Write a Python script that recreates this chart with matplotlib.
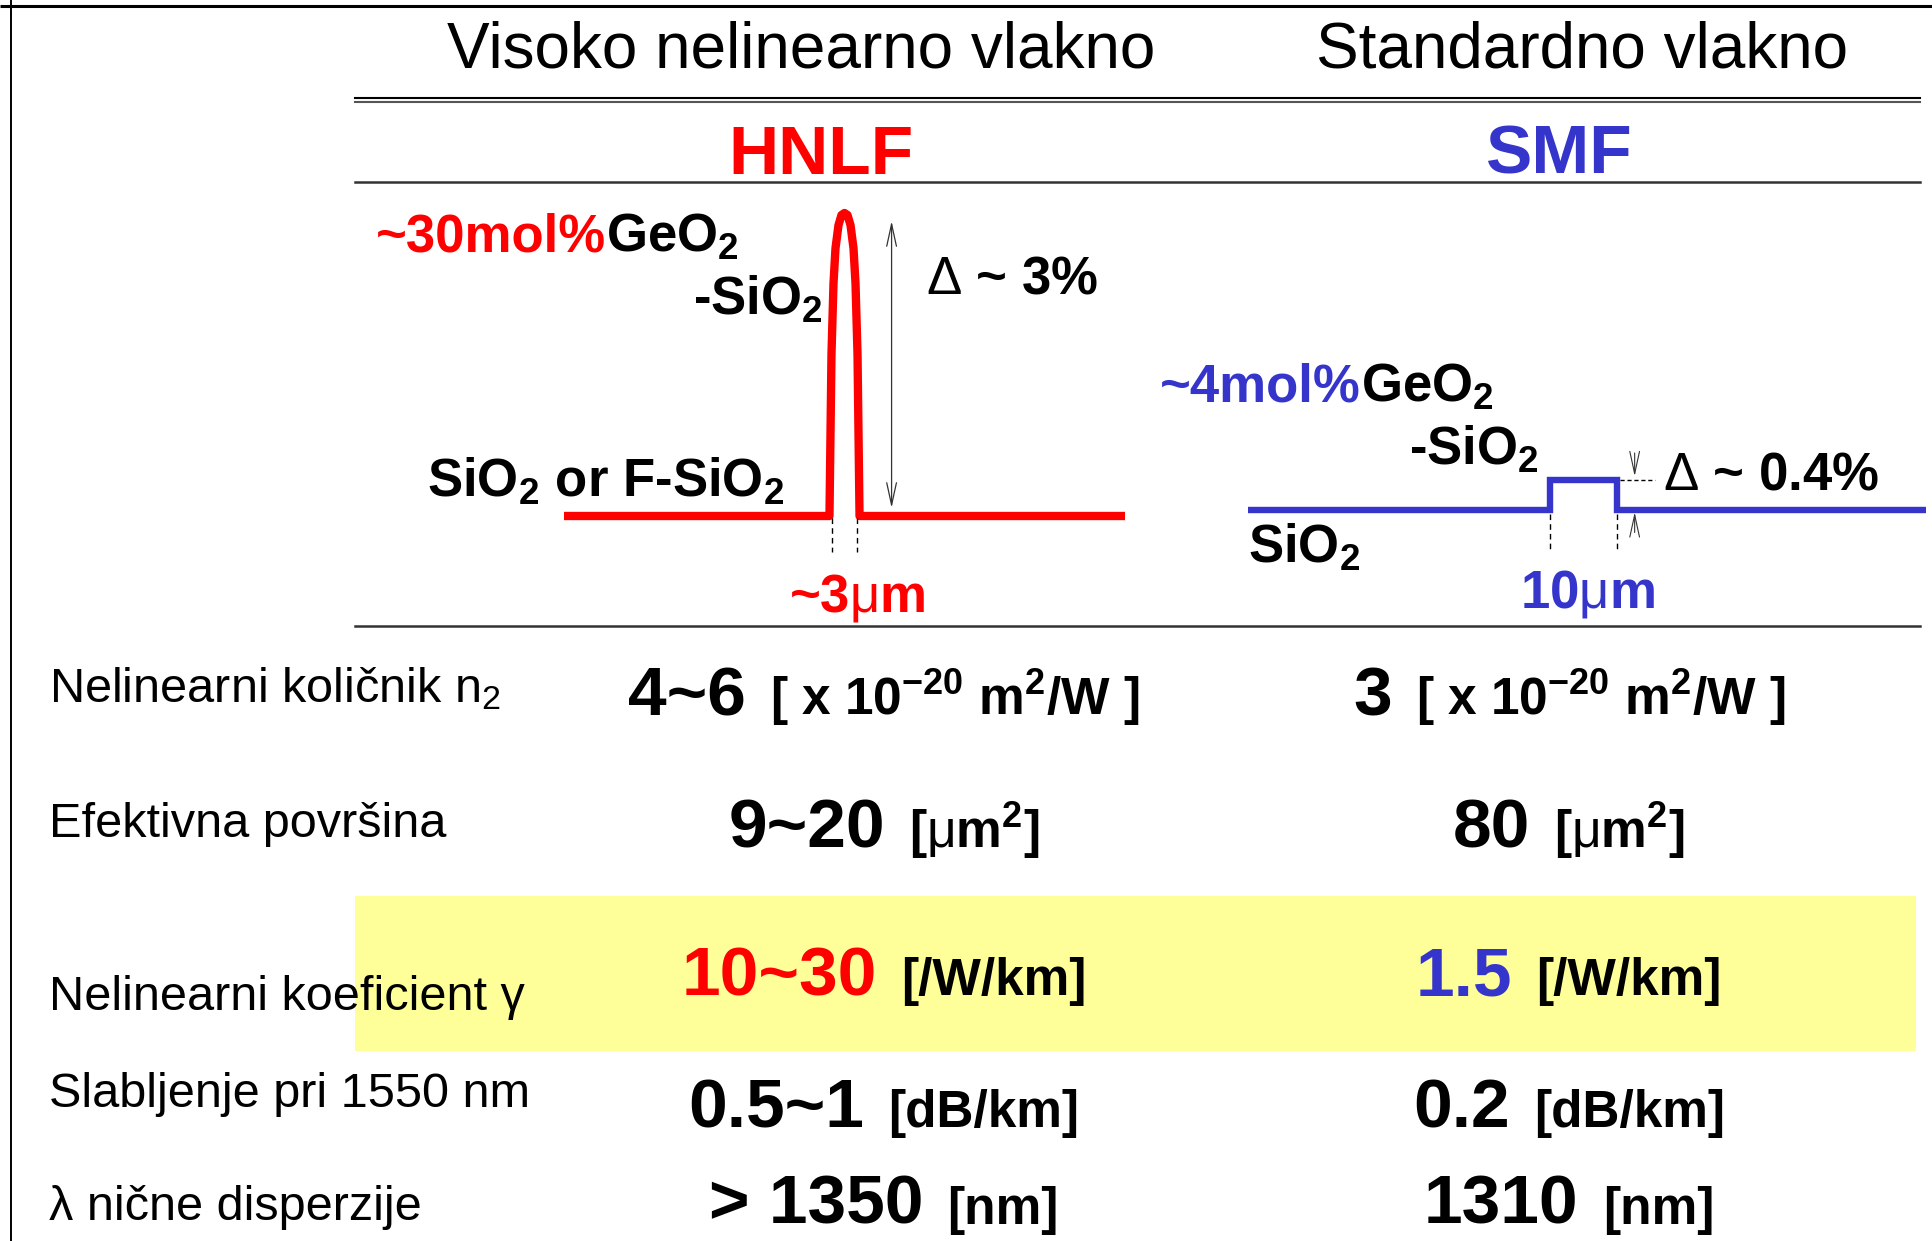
import numpy as np
import matplotlib.pyplot as plt

plt.rcParams['font.family'] = ['Liberation Sans', 'DejaVu Sans']
plt.rcParams['mathtext.fontset'] = 'custom'
plt.rcParams['mathtext.rm'] = 'Liberation Sans'
plt.rcParams['mathtext.bf'] = 'Liberation Sans:bold'
plt.rcParams['mathtext.default'] = 'regular'

# ============================================================
# Data
# ============================================================

fiber_names = ['Visoko nelinearno vlakno', 'Standardno vlakno']
fiber_codes = ['HNLF', 'SMF']

row_labels = ['Nelinearni količnik n$_2$',
              'Efektivna površina',
              'Nelinearni koeficient γ',
              'Slabljenje pri 1550 nm',
              'λ nične disperzije']
hnlf_values = ['4~6', '9~20', '10~30', '0.5~1', '> 1350']
smf_values = ['3', '80', '1.5', '0.2', '1310']
units = ['[ x 10$^{-20}$ m$^2$/W ]', r'[$\mathrm{\mu}$m$^2$]',
         '[/W/km]', '[dB/km]', '[nm]']
highlight_row = 2

# refractive index profiles (schematic): radius [um], index step [%]
hnlf_r = [-28, -1.5, -1.3, -1.1, -0.9, -0.6, -0.3, 0.0, 0.3, 0.6, 0.9, 1.1, 1.3, 1.5, 28]
hnlf_delta = [0, 0, 1.6, 2.3, 2.65, 2.88, 2.98, 3.0, 2.98, 2.88, 2.65, 2.3, 1.6, 0, 0]
hnlf_core = 3      # um
hnlf_step = 3      # %
smf_r = [-50, -5, -5, 5, 5, 51]
smf_delta = [0, 0, 0.4, 0.4, 0, 0]
smf_core = 10      # um
smf_step = 0.4     # %

# ============================================================
# Figure (main axes in pixel coordinates, y downwards)
# ============================================================

W, H = 1932, 1241
RED = '#ff0000'
BLUE = '#3535cc'
YELLOW = '#ffff99'

fig = plt.figure(figsize=(W / 100, H / 100), dpi=100)
ax = fig.add_axes([0, 0, 1, 1])
ax.set_xlim(0, W)
ax.set_ylim(H, 0)
ax.axis('off')


def px_axes(x0, x1, ytop, ybot, xlim, ylim):
    a = fig.add_axes([x0 / W, 1 - ybot / H, (x1 - x0) / W, (ybot - ytop) / H])
    a.set_xlim(xlim)
    a.set_ylim(ylim)
    a.axis('off')
    return a


# frame
ax.plot([0, W], [6, 6], color='black', lw=2.2, solid_capstyle='butt')
ax.plot([11, 11], [0, H], color='black', lw=1.4)

# table rules
ax.plot([355, 1920], [98, 98], color='black', lw=1.5)
ax.plot([355, 1920], [101.5, 101.5], color='#555555', lw=1.5)
ax.plot([355, 1920], [182, 182], color='#333333', lw=1.8)
ax.plot([355, 1920], [626, 626], color='#333333', lw=1.8)

# highlighted row
ax.add_patch(plt.Rectangle((355, 896), 1561, 155, facecolor=YELLOW,
                           edgecolor='none', zorder=0))

# headers
col_x = [801, 1582]
code_x = [821, 1559]
code_col = [RED, BLUE]
for name, cx in zip(fiber_names, col_x):
    ax.text(cx, 68, name, fontsize=46, ha='center', va='baseline')
for code, cx, c in zip(fiber_codes, code_x, code_col):
    ax.text(cx, 174, code, fontsize=50, fontweight='bold', color=c,
            ha='center', va='baseline')

# ============================================================
# HNLF profile
# ============================================================

pa = px_axes(564, 1125, 213, 516, (-28, 28), (0, 3))
pa.plot(hnlf_r, hnlf_delta, color=RED, lw=6, clip_on=False,
        solid_joinstyle='round', solid_capstyle='butt')
for s in (-1, 1):
    pa.plot([s * 1.2, s * 1.2], [-0.02, -0.36], color='black', lw=1,
            ls=(0, (4, 3)), clip_on=False)
pa.annotate('', xy=(4.7, 2.92), xytext=(4.7, 0.08),
            arrowprops=dict(arrowstyle='<->,head_length=1.6,head_width=0.35',
                            color='#333333', lw=0.9, shrinkA=0, shrinkB=0),
            annotation_clip=False)

bold = dict(fontsize=38, fontweight='bold', va='baseline')
ax.text(606, 252, '~30mol%', color=RED, ha='right', **bold)
ax.text(606, 252, 'GeO$_2$', color='black', ha='left', **bold)
ax.text(823, 315, '-SiO$_2$', color='black', ha='right', **bold)
ax.text(427, 497, 'SiO$_2$ or F-SiO$_2$', color='black', ha='left', **bold)
ax.text(926, 293, r'$\mathrm{\Delta}$ ~ %d%%' % hnlf_step, ha='left', **bold)
ax.text(857, 612, r'~%d$\mathrm{\mu}$m' % hnlf_core, color=RED,
        ha='center', **bold)

# ============================================================
# SMF profile
# ============================================================

sa = px_axes(1248, 1926, 480, 510, (-50, 51), (0, 0.4))
sa.plot(smf_r, smf_delta, color=BLUE, lw=4.6, clip_on=False,
        solid_joinstyle='miter', solid_capstyle='butt')
for s in (-1, 1):
    sa.plot([s * 5, s * 5], [-0.05, -0.55], color='black', lw=1,
            ls=(0, (4, 3)), clip_on=False)
sa.plot([5.4, 10.6], [0.4, 0.4], color='black', lw=1, ls=(0, (3, 2)),
        clip_on=False)
arrow_kw = dict(arrowstyle='->,head_length=1.6,head_width=0.35',
                color='#333333', lw=0.8, shrinkA=0, shrinkB=0)
sa.annotate('', xy=(7.6, 0.45), xytext=(7.6, 0.76),
            arrowprops=arrow_kw, annotation_clip=False)
sa.annotate('', xy=(7.6, -0.03), xytext=(7.6, -0.3),
            arrowprops=arrow_kw, annotation_clip=False)

ax.text(1361, 402, '~4mol%', color=BLUE, ha='right', **bold)
ax.text(1361, 402, 'GeO$_2$', color='black', ha='left', **bold)
ax.text(1539, 465, '-SiO$_2$', color='black', ha='right', **bold)
ax.text(1248, 563, 'SiO$_2$', color='black', ha='left', **bold)
ax.text(1663, 489, r'$\mathrm{\Delta}$ ~ %.1f%%' % smf_step, ha='left', **bold)
ax.text(1587, 608, r'%d$\mathrm{\mu}$m' % smf_core, color=BLUE,
        ha='center', **bold)

# ============================================================
# Rows
# ============================================================

label_y = [702, 837, 1010, 1107, 1220]
value_y = [715, 848, 995, 1127, 1224]
group_x = [884, 1569]
GAP = 24

groups = []
for i, lab in enumerate(row_labels):
    ax.text(49, label_y[i], lab, fontsize=35, ha='left', va='baseline')
    for vals, cx, c in zip([hnlf_values, smf_values], group_x, code_col):
        col = c if i == highlight_row else 'black'
        t1 = ax.text(cx, value_y[i], vals[i], fontsize=50, fontweight='bold',
                     color=col, ha='left', va='baseline')
        t2 = ax.text(cx, value_y[i], units[i], fontsize=37, fontweight='bold',
                     color='black', ha='left', va='baseline')
        groups.append((t1, t2, cx))

fig.canvas.draw()
r = fig.canvas.get_renderer()
for t1, t2, cx in groups:
    w1 = t1.get_window_extent(r).width
    w2 = t2.get_window_extent(r).width
    left = cx - (w1 + GAP + w2) / 2
    t1.set_x(left)
    t2.set_x(left + w1 + GAP)

fig.savefig('out.png', dpi=100, facecolor='white')
